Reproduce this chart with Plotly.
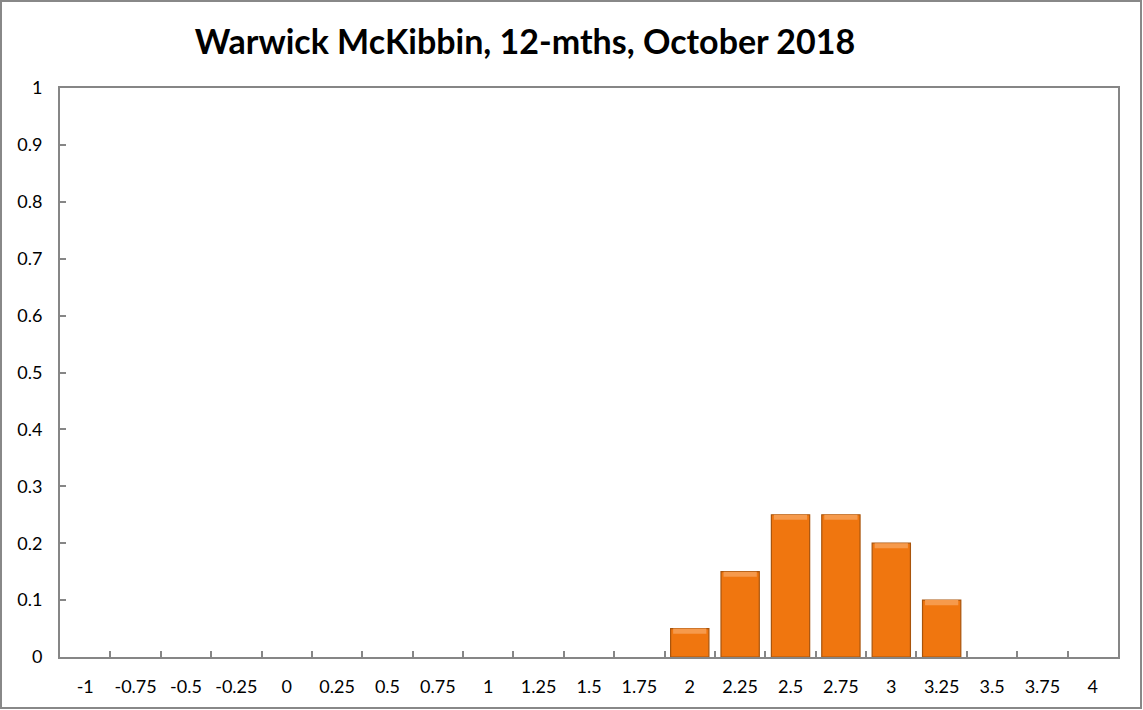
import plotly.graph_objects as go

categories = ["-1", "-0.75", "-0.5", "-0.25", "0", "0.25", "0.5", "0.75", "1", "1.25",
              "1.5", "1.75", "2", "2.25", "2.5", "2.75", "3", "3.25", "3.5", "3.75", "4"]
values = [0, 0, 0, 0, 0, 0, 0, 0, 0, 0, 0, 0, 0.05, 0.15, 0.25, 0.25, 0.2, 0.1, 0, 0, 0]
y_ticks = [0, 0.1, 0.2, 0.3, 0.4, 0.5, 0.6, 0.7, 0.8, 0.9, 1]
y_tick_labels = ["0", "0.1", "0.2", "0.3", "0.4", "0.5", "0.6", "0.7", "0.8", "0.9", "1"]
title_text = "Warwick McKibbin, 12-mths, October 2018"

W, H = 1143, 710
ml, mr, mt, mb = 60, 25, 88, 53
pw, ph = W - ml - mr, H - mt - mb
FONT = "Lato, Carlito, Calibri, sans-serif"

bar_vals = [v if v > 0 else None for v in values]
band_h = 0.009
band_vals = [band_h if v > 0 else None for v in values]
band_base = [v - band_h if v > 0 else None for v in values]

fig = go.Figure()
fig.add_trace(go.Bar(
    x=categories, y=bar_vals,
    marker=dict(color="#F0760F", line=dict(color="#A8540C", width=1.2)),
    hoverinfo="x+y", showlegend=False,
))
fig.add_trace(go.Bar(
    x=categories, y=band_vals, base=band_base,
    marker=dict(color="#F69A4C", line=dict(width=0)),
    width=0.66, hoverinfo="skip", showlegend=False,
))

def px_to_paper_x(p):
    return (p - ml) / pw

def px_to_paper_y(p):
    return (H - mb - p) / ph

fig.add_shape(type="rect", xref="paper", yref="paper",
              x0=px_to_paper_x(1), x1=px_to_paper_x(W - 2),
              y0=px_to_paper_y(H - 2), y1=px_to_paper_y(1),
              line=dict(color="#888888", width=2), layer="below")

fig.update_layout(
    width=W, height=H,
    margin=dict(l=ml, r=mr, t=mt, b=mb, autoexpand=False),
    paper_bgcolor="white", plot_bgcolor="white",
    barmode="overlay",
    bargap=0.24,
    font=dict(family=FONT, size=18, color="#000000"),
    title=dict(text="<b>" + title_text + "</b>", x=525 / W,
               xanchor="center", y=1 - 42 / H, yanchor="middle",
               font=dict(family=FONT, size=34, color="#000000")),
    xaxis=dict(type="category", showline=True, linecolor="#868686", linewidth=2, mirror=True,
               ticks="inside", tickson="boundaries", ticklen=6, tickcolor="#868686", tickwidth=2,
               showgrid=False, zeroline=False, ticklabelstandoff=12, tickangle=0,
               automargin=False, tickfont=dict(size=18)),
    yaxis=dict(range=[0, 1], tickvals=y_ticks, ticktext=y_tick_labels,
               showline=True, linecolor="#868686", linewidth=2, mirror=True,
               ticks="inside", ticklen=6, tickcolor="#868686", tickwidth=2,
               showgrid=False, zeroline=False, ticklabelstandoff=12,
               automargin=False, tickfont=dict(size=18)),
)

fig.write_html("out.html", config={"displayModeBar": False},
               post_script="document.body.style.margin='0';document.body.style.overflow='hidden';")
